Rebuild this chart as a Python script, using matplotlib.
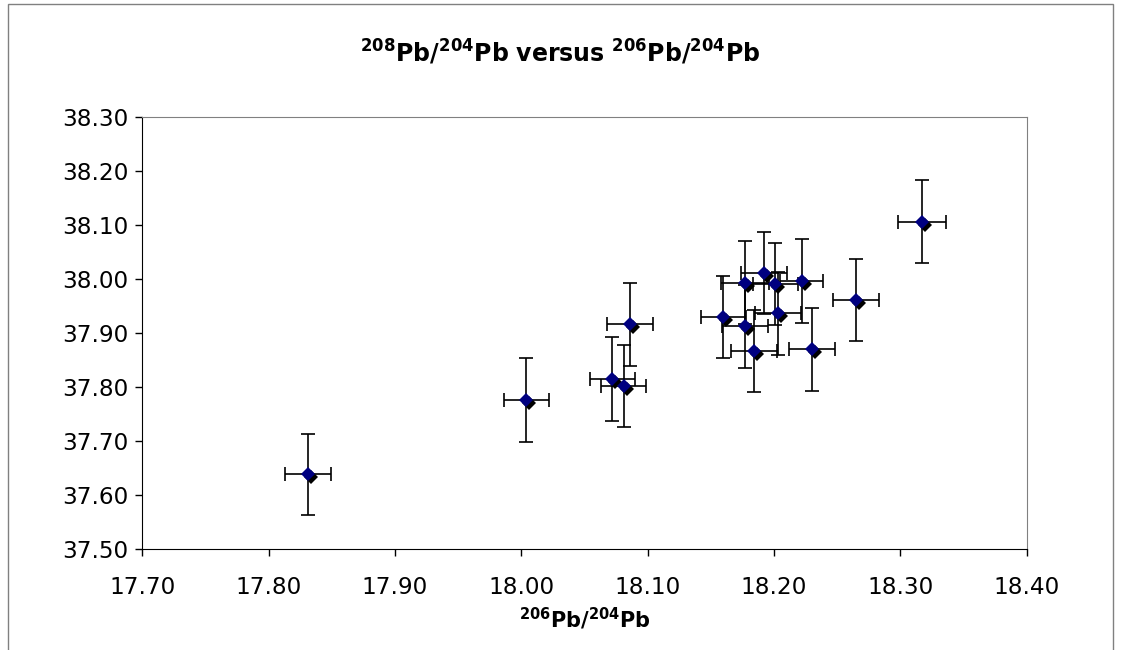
import matplotlib.pyplot as plt
from matplotlib.transforms import offset_copy
from matplotlib.patches import Rectangle

# data
pb206_204 = [17.831, 18.004, 18.086, 18.072, 18.081, 18.160, 18.177, 18.192,
             18.201, 18.222, 18.203, 18.177, 18.184, 18.230, 18.265, 18.317]
pb208_204 = [37.639, 37.776, 37.916, 37.815, 37.802, 37.929, 37.993, 38.011,
             37.990, 37.996, 37.936, 37.912, 37.866, 37.870, 37.961, 38.106]
err_206 = [0.018, 0.018, 0.018, 0.018, 0.018, 0.018, 0.019, 0.018,
           0.018, 0.017, 0.018, 0.018, 0.018, 0.018, 0.018, 0.019]
err_208 = [0.075, 0.078, 0.077, 0.077, 0.076, 0.076, 0.077, 0.076,
           0.076, 0.077, 0.077, 0.077, 0.076, 0.077, 0.076, 0.077]

x_ticks = [17.70, 17.80, 17.90, 18.00, 18.10, 18.20, 18.30, 18.40]
y_ticks = [37.50, 37.60, 37.70, 37.80, 37.90, 38.00, 38.10, 38.20, 38.30]

fig = plt.figure(figsize=(11.28, 6.5), dpi=100)
ax = fig.add_axes([0.1262, 0.1549, 0.784, 0.6657])

# error bars
ax.errorbar(pb206_204, pb208_204, xerr=err_206, yerr=err_208, fmt='none',
            ecolor='black', elinewidth=1.2, capsize=4.7, capthick=1.2, zorder=2)

# shadow of the markers, shifted down/right a few pixels
shadow = offset_copy(ax.transData, fig=fig, x=3, y=-3, units='dots')
ax.plot(pb206_204, pb208_204, 'D', ms=6.8, color='black', mew=0,
        transform=shadow, zorder=3)
ax.plot(pb206_204, pb208_204, 'D', ms=6.8, color='#000080', mew=0, zorder=4)

ax.set_xlim(17.70, 18.40)
ax.set_ylim(37.50, 38.30)
ax.set_xticks(x_ticks)
ax.set_yticks(y_ticks)
ax.set_xticklabels(['%.2f' % v for v in x_ticks])
ax.set_yticklabels(['%.2f' % v for v in y_ticks])
ax.tick_params(axis='both', direction='out', length=5, width=1, colors='black',
               labelsize=16.7)
ax.tick_params(axis='x', pad=14)
ax.tick_params(axis='y', pad=5)

ax.spines['left'].set_color('black')
ax.spines['bottom'].set_color('black')
ax.spines['top'].set_color('#808080')
ax.spines['right'].set_color('#808080')

ax.set_title(r'$\mathbf{^{208}Pb/^{204}Pb\ versus\ ^{206}Pb/^{204}Pb}$',
             fontsize=17, pad=39.6, x=0.4723)
ax.set_xlabel(r'$\mathbf{^{206}Pb/^{204}Pb}$', fontsize=15, labelpad=5)

# outer chart border
fig.patches.append(Rectangle((0.0067, -0.05), 0.980, 1.0434, transform=fig.transFigure,
                             fill=False, edgecolor='#808080', lw=1))

fig.savefig('out.png', dpi=100)
